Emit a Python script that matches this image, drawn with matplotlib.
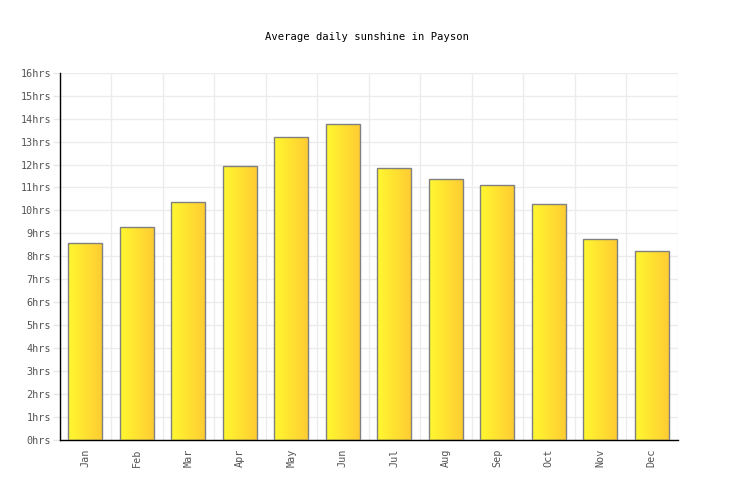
import numpy as np
import matplotlib
matplotlib.use("Agg")
import matplotlib.pyplot as plt
from matplotlib.colors import LinearSegmentedColormap

months = ["Jan", "Feb", "Mar", "Apr", "May", "Jun", "Jul", "Aug", "Sep", "Oct", "Nov", "Dec"]
sunshine = [8.57, 9.26, 10.35, 11.92, 13.18, 13.75, 11.83, 11.35, 11.09, 10.27, 8.77, 8.22]
yticks = list(range(0, 17))
ytick_labels = [f"{v}hrs" for v in yticks]
title = "Average daily sunshine in Payson"

W, H = 736, 500
fig = plt.figure(figsize=(W / 100, H / 100), dpi=100)
left, right, bottom, top = 59.5, 677.5, 440, 72.7
ax = fig.add_axes([left / W, 1 - bottom / H, (right - left) / W, (bottom - top) / H])

font = "DejaVu Sans Mono"
x = np.arange(len(months))
bars = ax.bar(x, sunshine, width=0.66, color="none", edgecolor="#808080", linewidth=1.0, zorder=3)

cmap = LinearSegmentedColormap.from_list("sun", ["#FFF830", "#FFCC33"])
grad = np.linspace(0, 1, 256).reshape(1, -1)
for b in bars:
    x0, y0 = b.get_x(), b.get_y()
    w, h = b.get_width(), b.get_height()
    im = ax.imshow(grad, cmap=cmap, aspect="auto", extent=[x0, x0 + w, y0, y0 + h], zorder=2)
    im.set_clip_path(b)

ax.set_xlim(-0.5, len(months) - 0.5)
ax.set_ylim(0, 16)
ax.set_yticks(yticks)
ax.set_yticklabels(ytick_labels, fontfamily=font, fontsize=7.3, color="#555555")
ax.set_xticks(x)
ax.set_xticklabels(months, rotation=90, fontfamily=font, fontsize=7.3, color="#555555")
ax.set_xticks(np.arange(-0.5, len(months)), minor=True)
ax.tick_params(axis="y", length=5, color="#e8e8e8", width=1, pad=1)
ax.tick_params(axis="x", which="major", length=0, pad=6)
ax.tick_params(axis="x", which="minor", length=0)
ax.grid(axis="y", color="#ececec", linewidth=1, zorder=0)
ax.grid(axis="x", which="minor", color="#ececec", linewidth=1, zorder=0)
ax.grid(axis="x", which="major", visible=False)
ax.set_axisbelow(True)
for s in ["top", "right"]:
    ax.spines[s].set_visible(False)
for s in ["left", "bottom"]:
    ax.spines[s].set_color("black")
    ax.spines[s].set_linewidth(1)

fig.text(367 / W, 1 - 36.7 / H, title, ha="center", va="center", fontfamily=font, fontsize=7.6, color="black")
fig.savefig("out.png", dpi=100)
